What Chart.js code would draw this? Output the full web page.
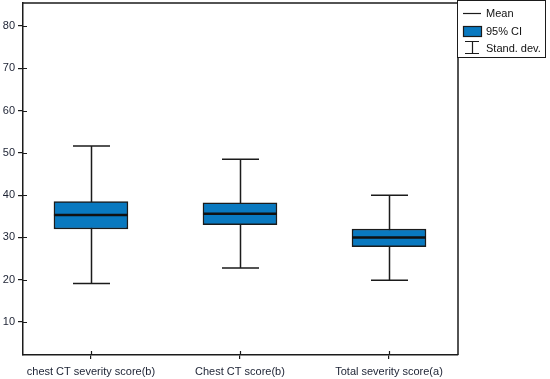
<!DOCTYPE html>
<html>
<head>
<meta charset="utf-8">
<script src="https://cdn.jsdelivr.net/npm/chart.js@4.4.1/dist/chart.umd.min.js"></script>
<style>
  html, body { margin: 0; padding: 0; background: #fff; }
  #wrap { width: 550px; height: 379px; }
</style>
</head>
<body>
<div id="wrap"><canvas id="chart"></canvas></div>
<script>
// values
var categories = ['chest CT severity score(b)', 'Chest CT score(b)', 'Total severity score(a)'];
var means   = [35.3, 35.6, 30.0];
var ciLow   = [32.0, 33.0, 27.8];
var ciHigh  = [38.5, 38.2, 32.0];
var sdLow   = [19.1, 22.8, 19.9];
var sdHigh  = [51.6, 48.5, 40.0];
var yTicks  = [10, 20, 30, 40, 50, 60, 70, 80];
var legendLabels = ['Mean', '95% CI', 'Stand. dev.'];

var ink = '#1b1b1b';
var boxBlue = '#0979c0';
var font = { family: 'Liberation Sans, Arial, sans-serif', size: 11 };

// whiskers behind the boxes, mean line on top, frame + ticks, legend
var boxPlot = {
  id: 'boxPlot',
  beforeDatasetsDraw: function (chart) {
    var ctx = chart.ctx, x = chart.scales.x, y = chart.scales.y;
    ctx.save();
    ctx.strokeStyle = ink;
    ctx.lineWidth = 1.5;
    categories.forEach(function (c, i) {
      var cx = Math.round(x.getPixelForValue(i + 1)) + 0.5;
      var top = y.getPixelForValue(sdHigh[i]);
      var bot = y.getPixelForValue(sdLow[i]);
      ctx.beginPath();
      ctx.moveTo(cx, top); ctx.lineTo(cx, bot);
      ctx.moveTo(cx - 18.5, top); ctx.lineTo(cx + 18.5, top);
      ctx.moveTo(cx - 18.5, bot); ctx.lineTo(cx + 18.5, bot);
      ctx.stroke();
    });
    ctx.restore();
  },
  afterDatasetsDraw: function (chart) {
    var ctx = chart.ctx, x = chart.scales.x, y = chart.scales.y, a = chart.chartArea;
    ctx.save();
    // mean
    ctx.strokeStyle = '#111';
    ctx.lineWidth = 2.5;
    categories.forEach(function (c, i) {
      var cx = x.getPixelForValue(i + 1);
      var my = y.getPixelForValue(means[i]);
      ctx.beginPath();
      ctx.moveTo(cx - 37, my); ctx.lineTo(cx + 37, my);
      ctx.stroke();
    });
    // top and right of frame
    ctx.strokeStyle = ink;
    ctx.lineWidth = 1.5;
    ctx.beginPath();
    ctx.moveTo(a.left, a.top); ctx.lineTo(a.right, a.top); ctx.lineTo(a.right, a.bottom);
    ctx.stroke();
    // inner half of tick marks
    ctx.lineWidth = 1.2;
    ctx.beginPath();
    y.ticks.forEach(function (t) {
      var py = Math.round(y.getPixelForValue(t.value)) + 0.5;
      ctx.moveTo(a.left, py); ctx.lineTo(a.left + 4, py);
    });
    x.ticks.forEach(function (t) {
      var px = Math.round(x.getPixelForValue(t.value)) + 0.5;
      ctx.moveTo(px, a.bottom); ctx.lineTo(px, a.bottom - 4);
    });
    ctx.stroke();
    ctx.restore();
  },
  afterDraw: function (chart) {
    var ctx = chart.ctx;
    var lx = 457.5, ly = 0.5, lw = 88, lh = 57;
    ctx.save();
    ctx.fillStyle = '#fff';
    ctx.fillRect(lx, ly, lw, lh);
    ctx.strokeStyle = ink;
    ctx.lineWidth = 1;
    ctx.strokeRect(lx, ly, lw, lh);
    // mean symbol
    ctx.lineWidth = 1.2;
    ctx.beginPath();
    ctx.moveTo(463, 13.5); ctx.lineTo(481, 13.5);
    ctx.stroke();
    // ci symbol
    ctx.fillStyle = boxBlue;
    ctx.fillRect(463.5, 26.5, 18, 10);
    ctx.strokeRect(463.5, 26.5, 18, 10);
    // sd symbol
    ctx.beginPath();
    ctx.moveTo(465, 41.5); ctx.lineTo(479, 41.5);
    ctx.moveTo(472.5, 41.5); ctx.lineTo(472.5, 53.5);
    ctx.moveTo(465, 53.5); ctx.lineTo(479, 53.5);
    ctx.stroke();
    ctx.fillStyle = '#111';
    ctx.font = font.size + 'px ' + font.family;
    ctx.textBaseline = 'middle';
    ctx.textAlign = 'left';
    ctx.fillText(legendLabels[0], 486, 13.5);
    ctx.fillText(legendLabels[1], 486, 31.5);
    ctx.fillText(legendLabels[2], 486, 48.5);
    ctx.restore();
  }
};

var boxData = categories.map(function (c, i) {
  return { x: i + 1, y: [ciLow[i], ciHigh[i]] };
});

new Chart(document.getElementById('chart'), {
  type: 'bar',
  data: {
    datasets: [{
      label: legendLabels[1],
      data: boxData,
      backgroundColor: boxBlue,
      borderColor: ink,
      borderWidth: 1.5,
      borderSkipped: false,
      barThickness: 74
    }]
  },
  options: {
    responsive: true,
    maintainAspectRatio: false,
    animation: false,
    layout: { padding: { top: 3, right: 92, left: 0, bottom: 0 } },
    plugins: { legend: { display: false }, tooltip: { enabled: false } },
    scales: {
      x: {
        type: 'linear',
        offset: false,
        min: 0.544,
        max: 3.463,
        afterBuildTicks: function (axis) {
          axis.ticks = categories.map(function (c, i) { return { value: i + 1 }; });
        },
        afterFit: function (axis) {
          axis.height = 24;
          axis.paddingLeft = 0; axis.paddingRight = 0;
        },
        ticks: {
          callback: function (v) { return categories[v - 1]; },
          color: '#1c2233',
          font: font,
          padding: 6,
          maxRotation: 0,
          autoSkip: false
        },
        grid: { offset: false, drawOnChartArea: false, color: ink, tickLength: 4, lineWidth: 1.2 },
        border: { color: ink, width: 1.5 }
      },
      y: {
        min: 2.2,
        max: 85.44,
        afterBuildTicks: function (axis) {
          axis.ticks = yTicks.map(function (v) { return { value: v }; });
        },
        afterFit: function (axis) {
          axis.width = 23;
          axis.paddingTop = 0; axis.paddingBottom = 0;
        },
        ticks: { color: '#1c2233', font: font, padding: 3 },
        grid: { drawOnChartArea: false, color: ink, tickLength: 5, lineWidth: 1.2 },
        border: { color: ink, width: 1.5 }
      }
    }
  },
  plugins: [boxPlot]
});
</script>
</body>
</html>
